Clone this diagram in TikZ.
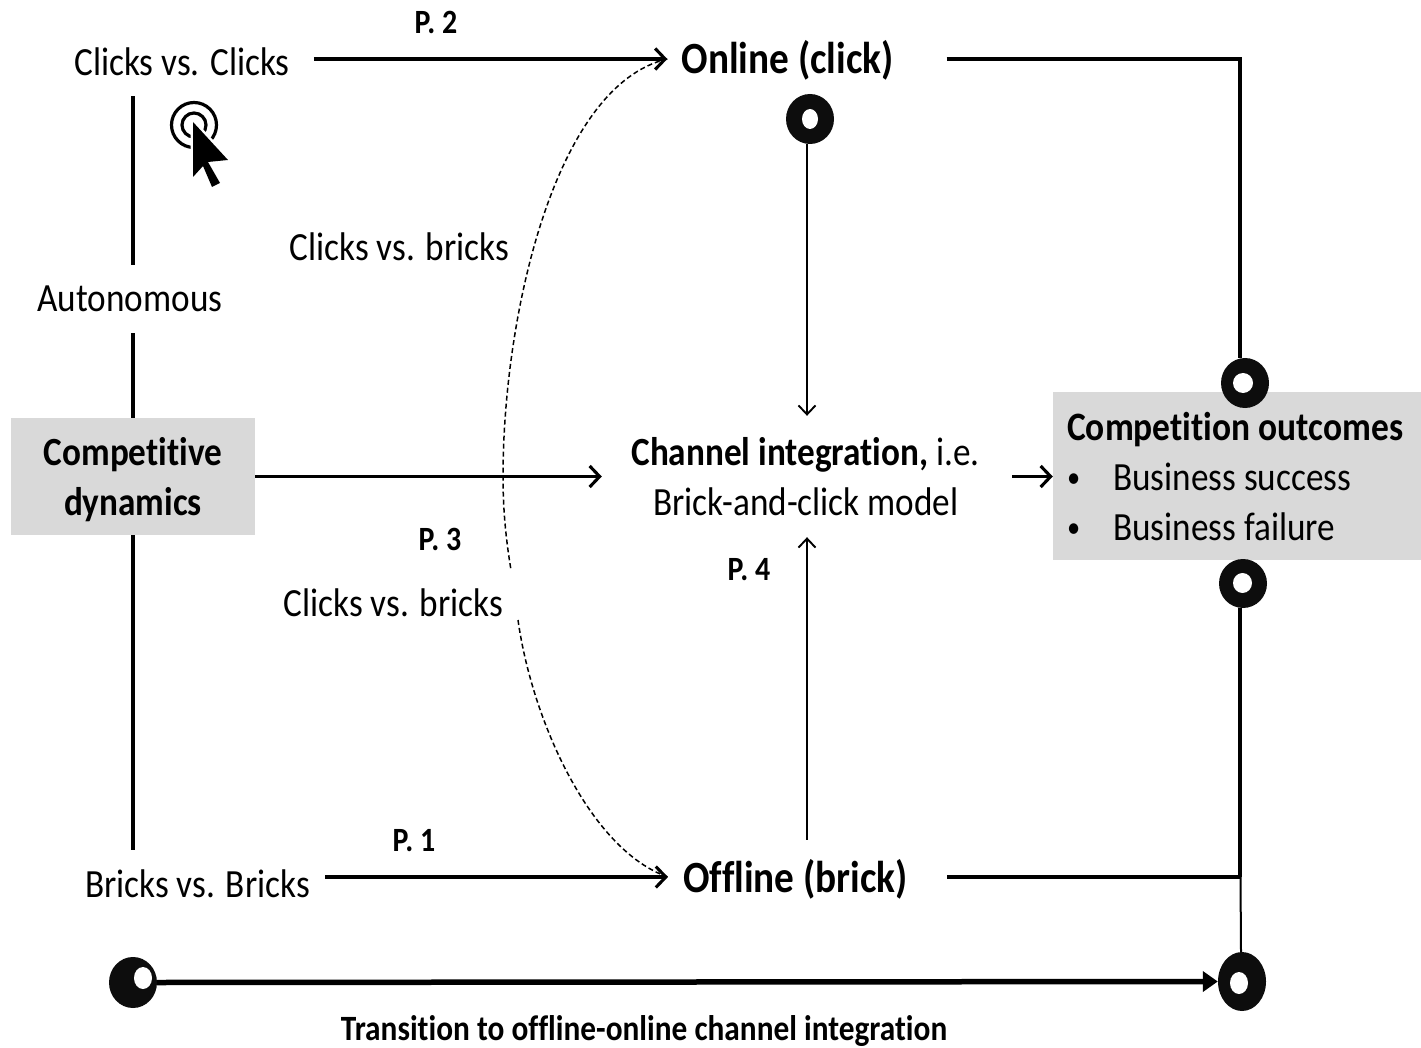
\documentclass[tikz,border=0pt]{standalone}
\usepackage{fontspec}
\setmainfont[FakeStretch=0.88,Ligatures=NoCommon]{Carlito}
\usetikzlibrary{arrows.meta,shapes.geometric}
\definecolor{boxgrey}{HTML}{D9D9D9}
\definecolor{ringblack}{HTML}{0D0D0D}
\tikzset{
  x=1pt,y=-1pt,
  lab/.style={inner sep=0pt,anchor=base,font=\fontsize{40}{50}\selectfont},
  big/.style={inner sep=0pt,anchor=base,font=\fontsize{44.6}{50}\selectfont\bfseries},
  prop/.style={inner sep=0pt,anchor=base,font=\fontsize{34}{38}\selectfont\bfseries},
  greybox/.style={fill=boxgrey,inner sep=0pt},
  ring/.style={ellipse,fill=ringblack,inner sep=0pt},
  hole/.style={ellipse,fill=white,inner sep=0pt},
  conn/.style={line width=3.1pt,draw=black},
  thin conn/.style={line width=1.9pt,draw=black},
  arr/.style={conn,-{Straight Barb[length=10pt,width=21pt,line width=3.1pt]}},
  thin arr/.style={thin conn,-{Straight Barb[length=9pt,width=17pt,line width=1.9pt]}},
  dash conn/.style={line width=1.5pt,dash pattern=on 5pt off 3pt},
}
\begin{document}
\begin{tikzpicture}
\useasboundingbox (0,0) rectangle (1421,1048);
% grey boxes
\node[greybox,minimum width=244pt,minimum height=117pt] (dyn) at (133,476.5) {};
\node[greybox,minimum width=368pt,minimum height=168pt] (out) at (1237,476) {};
% text nodes
\node[lab,inner xsep=24pt,text height=29pt,text depth=20pt] (cc) at (182,76) {Clicks vs. Clicks};
\node[lab,text height=47pt,text depth=21pt] (auto) at (130,312) {Autonomous};
\node[lab,inner xsep=15pt,text height=47pt,text depth=9pt] (bb) at (197.5,897) {Bricks vs. Bricks};
\node[lab] (cb1) at (399.5,261) {Clicks vs. bricks};
\node[lab] (cb2) at (393.5,616) {Clicks vs. bricks};
\node[big,inner xsep=14pt,text height=34pt,text depth=4pt] (online) at (787.5,74) {Online (click)};
\node[big,inner xsep=15pt,text height=52pt,text depth=22pt] (offline) at (795.5,892) {Offline (brick)};
\node[prop] (p2) at (436,34) {P. 2};
\node[prop] (p3) at (440,550) {P. 3};
\node[prop] (p4) at (749,580) {P. 4};
\node[prop] (p1) at (414,851) {P. 1};
\node[prop,font=\fontsize{35.6}{38}\selectfont\bfseries] (trans) at (644,1040) {Transition to offline-online channel integration};
\node[lab,font=\fontsize{40}{50}\selectfont\bfseries] (dyn1) at (133,465) {Competitive};
\node[lab,font=\fontsize{40}{50}\selectfont\bfseries] (dyn2) at (133,515) {dynamics};
\node[inner sep=0pt,minimum width=410pt,minimum height=121pt] (chan) at (807,476.5) {};
\node[lab] (chan1) at (805.5,465) {\textbf{Channel integration,} i.e.};
\node[lab] (chan2) at (806,515) {Brick-and-click model};
\node[lab,font=\fontsize{40.3}{50}\selectfont\bfseries,anchor=base west] (oc0) at (1067,440) {Competition outcomes};
\node[lab,anchor=base west] (oc1) at (1113,490) {Business success};
\node[lab,anchor=base west] (oc2) at (1113,540) {Business failure};
\node[lab,font=\fontsize{30}{50}\selectfont,anchor=base west] (b1) at (1067,487) {•};
\node[lab,font=\fontsize{30}{50}\selectfont,anchor=base west] (b2) at (1067,537) {•};
% rings
\node[ring,minimum width=48pt,minimum height=50pt] (r1) at (810,119) {};
\node[hole,minimum width=16pt,minimum height=20pt] at (810,119) {};
\node[ring,minimum width=48pt,minimum height=50pt] (r2) at (1245,383) {};
\node[hole,minimum width=20pt,minimum height=20pt] at (1243,383) {};
\node[ring,minimum width=48pt,minimum height=49pt] (r3) at (1243,583.5) {};
\node[hole,minimum width=19pt,minimum height=20pt] at (1242.5,583) {};
\node[ring,minimum width=48pt,minimum height=51pt] (r4) at (133,982.5) {};
\node[hole,minimum width=18pt,minimum height=22pt] at (143,978) {};
\node[ring,minimum width=48pt,minimum height=59pt] (r5) at (1242,981.5) {};
\node[hole,minimum width=18pt,minimum height=22pt] at (1239,983) {};
% click icon
\draw[line width=3.2pt] (194,125) circle (22.5pt);
\draw[line width=3.2pt] (194,125) circle (12pt);
\draw[draw=white,line width=5pt,line join=miter] (193,122) -- (228,160) -- (208,162) -- (220,183) -- (212,187) -- (203,166) -- (193,177) -- cycle;
\fill[black] (193,122) -- (228,160) -- (208,162) -- (220,183) -- (212,187) -- (203,166) -- (193,177) -- cycle;
% connectors
\draw[conn] (cc.south -| dyn.north) -- (auto.north -| dyn.north);
\draw[conn] (auto.south -| dyn.north) -- (dyn.north);
\draw[conn] (dyn.south) -- (bb.north -| dyn.south);
\draw[arr] (cc.east |- online.west) -- (online.west);
\draw[arr] (bb.east |- offline.west) -- (offline.west);
\draw[arr] (dyn.east |- chan.west) -- (chan.west);
\draw[arr] (chan.east) -- (out.west |- chan.east);
\draw[thin arr] (r1.south -| chan.north) -- (chan.north);
\draw[thin arr] (offline.north -| chan.south) -- (chan.south);
\draw[conn] ([xshift=39pt]online.east) -| ([xshift=-5pt]r2.north);
\draw[conn] ([xshift=24pt]offline.east) -- (1240,877);
\draw[conn] (r3.south -| 1240,0) -- (1240,877);
\draw[thin conn,line width=2pt] (1240.5,877) -- (r5.north -| 1241,0);
\draw[line width=5.5pt,-{Triangle[length=15pt,width=20pt]}] (r4.east) -- (r5.west);
\coordinate (gapa) at (511,570);
\coordinate (gapb) at (518,620);
\draw[dash conn] (online.west) .. controls (555,85) and (503,315) .. (503,477) .. controls (503,510) and (506,540) .. (gapa);
\draw[dash conn] (gapb) .. controls (532,720) and (590,850) .. (offline.west);
\end{tikzpicture}
\end{document}
